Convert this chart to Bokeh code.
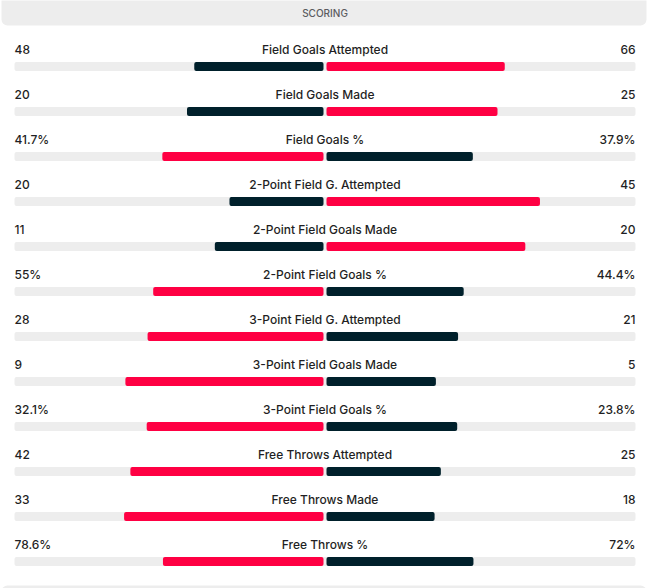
from bokeh.plotting import figure
from bokeh.models import Range1d, ColumnDataSource
from bokeh.core.properties import value
from bokeh.embed import file_html
from bokeh.resources import INLINE

section_title = "SCORING"
labels = [
    "Field Goals Attempted", "Field Goals Made", "Field Goals %",
    "2-Point Field G. Attempted", "2-Point Field Goals Made", "2-Point Field Goals %",
    "3-Point Field G. Attempted", "3-Point Field Goals Made", "3-Point Field Goals %",
    "Free Throws Attempted", "Free Throws Made", "Free Throws %",
]
home = [48, 20, 41.7, 20, 11, 55, 28, 9, 32.1, 42, 33, 78.6]
away = [66, 25, 37.9, 45, 20, 44.4, 21, 5, 23.8, 25, 18, 72]
is_pct = [False, False, True, False, False, True, False, False, True, False, False, True]

RED = "#ff0043"
DARK = "#00202b"
TRACK = "#ededed"
TXT = "#1f1f24"
FONT = value("'Inter Medium', 'Inter SemiBold', Inter")

W, H = 648, 588
CX = 324.5          # centre pixel
HALF = 310.5        # half-track pixel width
ROW0 = 49           # first label pixel y
STEP = 45           # row pitch

# x in units of half-track, y in units of rows
p = figure(width=W, height=H, output_backend="svg", toolbar_location=None,
           x_range=Range1d(-CX / HALF, (W - CX) / HALF),
           y_range=Range1d((H - ROW0) / STEP, -ROW0 / STEP),
           min_border=0, outline_line_color=None)
p.axis.visible = False
p.grid.visible = False
p.background_fill_color = "white"
p.border_fill_color = "white"

px = 1.0 / HALF      # one pixel in x data units
py = 1.0 / STEP      # one pixel in y data units

# header band
p.quad(left=[-CX / HALF + 1 * px], right=[(646 - CX) * px], top=[-ROW0 * py - 10 * py],
       bottom=[(25 - ROW0) * py], fill_color=TRACK, line_color=None, border_radius=6)
p.text(x=[0], y=[(12 - ROW0) * py], text=[section_title], text_align="center",
       text_baseline="middle", text_font=FONT, text_font_size="10px",
       text_color="#5b5b60")
# next section band at bottom
p.quad(left=[-CX / HALF + 1 * px], right=[(646 - CX) * px], top=[(585 - ROW0) * py],
       bottom=[(H + 10 - ROW0) * py], fill_color=TRACK, line_color=None, border_radius=6)

n = len(labels)
rows = list(range(n))
bar_y = [r + 17 * py for r in rows]
gap = 1.5 * px
tot = [h + a for h, a in zip(home, away)]
hl = [-(h / t) for h, t in zip(home, tot)]
ar = [a / t for a, t in zip(away, tot)]
hcol = [RED if h > a else DARK for h, a in zip(home, away)]
acol = [RED if a > h else DARK for h, a in zip(home, away)]

src = ColumnDataSource(dict(
    y=rows, by=bar_y, lab=labels,
    htxt=[f"{h:g}%" if pc else f"{h:g}" for h, pc in zip(home, is_pct)],
    atxt=[f"{a:g}%" if pc else f"{a:g}" for a, pc in zip(away, is_pct)],
    hl=hl, ar=ar, hcol=hcol, acol=acol,
    tl=[-1.0] * n, tr=[(635 - CX) * px] * n,
    gl=[-gap] * n, gr=[gap] * n,
))
bh = 9 * py
p.hbar(y="by", left="tl", right="tr", height=bh, source=src, fill_color=TRACK,
       line_color=None, border_radius=2)
p.hbar(y="by", left="hl", right="gl", height=bh, source=src, fill_color="hcol",
       line_color=None, border_radius=2)
p.hbar(y="by", left="gr", right="ar", height=bh, source=src, fill_color="acol",
       line_color=None, border_radius=2)

common = dict(text_baseline="middle", text_font=FONT, text_font_size="12px",
              text_color=TXT)
p.text(x=-1.0, y="y", text="htxt", source=src, text_align="left", **common)
p.text(x=0, y="y", text="lab", source=src, text_align="center", **common)
p.text(x=(635 - CX) * px, y="y", text="atxt", source=src, text_align="right", **common)

open("out.html", "w").write(file_html(p, INLINE))
